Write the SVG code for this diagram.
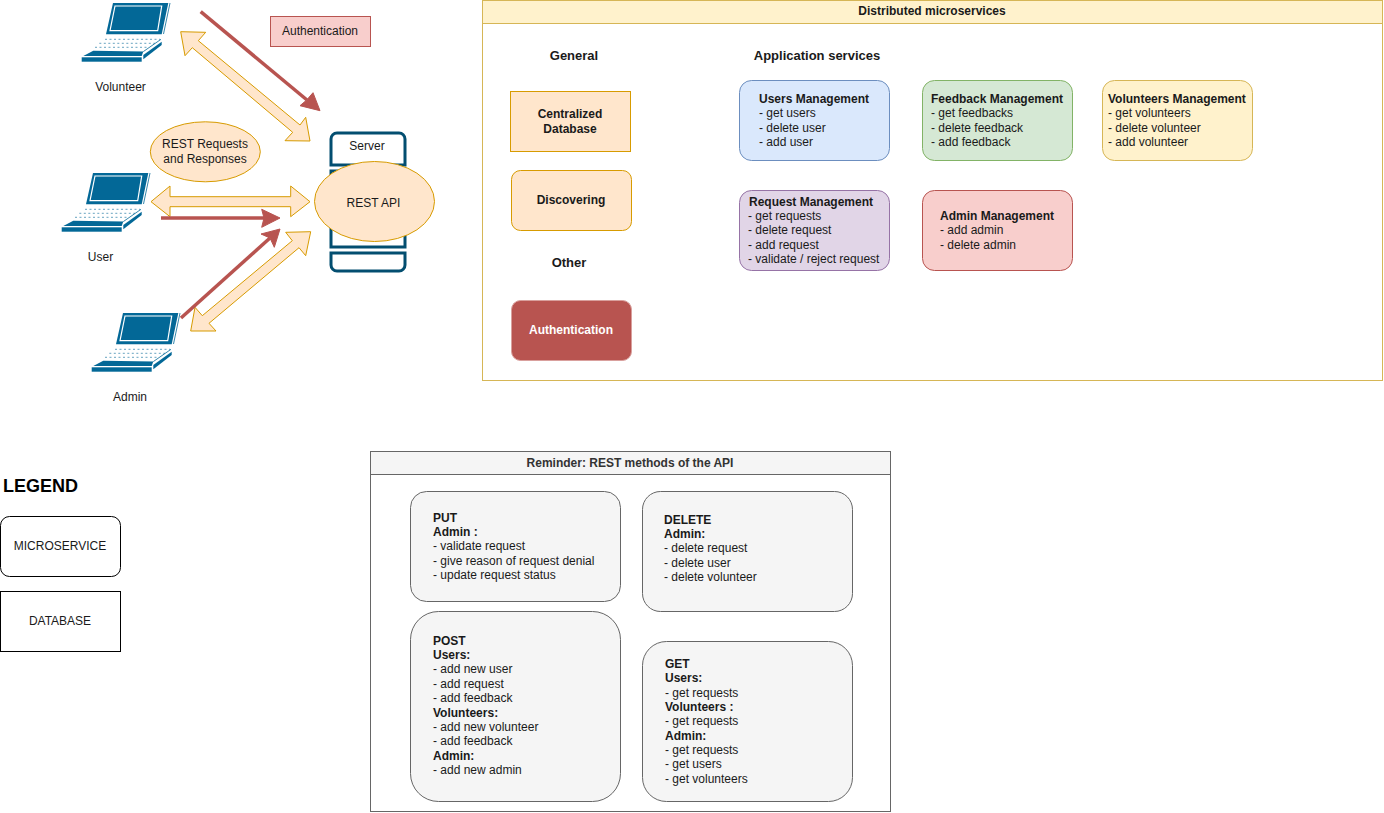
<svg xmlns="http://www.w3.org/2000/svg" width="1384" height="813" viewBox="0 0 1384 813">
<style>
text{font-family:"Liberation Sans",Arial,sans-serif;font-size:12px;fill:#1a1a1a}
.c{text-anchor:middle}
.b{font-weight:700}
.h{font-size:13px}
.o{fill:#ffe6cc;stroke:#d79b00;stroke-width:1}
.ba{fill:#ffe6cc;stroke:#d79b00;stroke-width:1}
.red{fill:none;stroke:#b85450;stroke-width:3.500}
.rh{fill:#b85450;stroke:#b85450}
.srv{fill:#fff;stroke:#034e70;stroke-width:3}
.g{fill:#f5f5f5;stroke:#666;stroke-width:1}
.k{fill:#fff;stroke:#000;stroke-width:1}
.gt{fill:#333}
</style>
<defs>
<g id="laptop">
<polygon points="32,1 87.300,1 80.700,32.300 25,32.300" fill="#036897"/>
<polygon points="34,4 80.700,4 76.700,28.700 29,28.700" fill="#036897" stroke="#fff" stroke-width="1.200"/>
<line x1="89" y1="1" x2="82.500" y2="32" stroke="#036897" stroke-width=".8"/>
<path d="M24 37.300H79M18.300 41.300H74M14 45.300H67.300" stroke="#036897" stroke-width="1" stroke-dasharray="2 2.500" fill="none" opacity=".6"/>
<line x1="80" y1="37.300" x2="62.300" y2="49.600" stroke="#036897" stroke-width=".8"/>
<polygon points="12.300,48.700 62.300,49.500 60.700,54 2.300,54" fill="#036897"/>
<rect x="0.700" y="55.300" width="60" height="4.400" fill="#036897"/>
<polygon points="62.300,53 80.700,39.700 80.700,43 62.300,57.300" fill="#036897"/>
</g>
</defs>

<g id="connectors">
<polygon class="ba" points="180.700,31.700 205.700,32.300 198.300,40.700 300,125 305.700,117.300 310,141 285,140.700 292.700,132.300 192.300,47.700 185,55.700"/>
<polygon class="ba" points="151,201.700 170,186 170,196.700 290.700,196.700 290.700,186 310,201.700 290.700,216.700 290.700,206.700 170,206.700 170,216.700"/>
<polygon class="ba" points="190.700,331 195,307.300 202.300,315.700 292.300,240.700 285.700,232.300 310.700,231.700 305.700,255.700 299,247.700 209,323.300 216,331"/>
<line class="red" x1="200.700" y1="11.700" x2="307" y2="100"/>
<polygon class="rh" points="320,110.700 300,105.700 306.700,100 313,92.700"/>
<line class="red" x1="161" y1="218" x2="265" y2="218"/>
<polygon class="rh" points="280,218 261.700,227.300 264,218 261.700,209.300"/>
<line class="red" x1="181" y1="318" x2="270" y2="238"/>
<polygon class="rh" points="280,229 274.300,247.300 270,238 261,234"/>
</g>

<g id="volunteer"><use href="#laptop" x="81" y="2"/><text class="c" x="120.500" y="91">Volunteer</text></g>
<g id="user"><use href="#laptop" x="61" y="172"/><text class="c" x="100.500" y="261">User</text></g>
<g id="admin"><use href="#laptop" x="91" y="312"/><text class="c" x="130" y="401">Admin</text></g>

<g id="auth-label"><rect x="270.500" y="16.500" width="100" height="30" fill="#f8cecc" stroke="#b85450"/><text class="c" x="320" y="35">Authentication</text></g>
<g id="rest-req"><ellipse class="o" cx="205.300" cy="151.800" rx="55" ry="30"/><text class="c" x="205" y="148">REST Requests</text><text class="c" x="205" y="163">and Responses</text></g>

<g id="server">
<path class="srv" d="M331 165V139a6 6 0 0 1 6-6h62a6 6 0 0 1 6 6v26z"/>
<rect class="srv" x="331" y="171" width="74" height="76"/>
<path class="srv" d="M331 253h74v12a6 6 0 0 1-6 6h-62a6 6 0 0 1-6-6z"/>
<text class="c" x="367" y="150">Server</text>
</g>
<g id="rest-api"><ellipse class="o" cx="374.500" cy="201.500" rx="60" ry="40"/><text class="c" x="373.500" y="207">REST API</text></g>

<g id="microservices">
<rect x="482.500" y="0.500" width="900" height="380" fill="#fff" stroke="#d6b656"/>
<rect x="482.500" y="0.500" width="900" height="23" fill="#fff2cc" stroke="#d6b656"/>
<text class="c b" x="932" y="15">Distributed microservices</text>
<text class="c b h" x="574" y="60">General</text>
<text class="c b h" x="817" y="60">Application services</text>
<text class="c b h" x="569" y="267">Other</text>
</g>
<g id="db"><rect class="o" x="510.500" y="91.500" width="120" height="60"/><text class="c b" x="570" y="118">Centralized</text><text class="c b" x="570" y="133">Database</text></g>
<g id="discovering"><rect class="o" x="511.500" y="170.500" width="120" height="60" rx="9"/><text class="c b" x="571" y="204">Discovering</text></g>
<g id="authentication"><rect x="511.500" y="300.500" width="120" height="60" rx="9" fill="#b85450" stroke="#d9a09d"/><text class="c b" x="571" y="334" style="fill:#fff">Authentication</text></g>

<g id="users-mgmt"><rect x="739.500" y="80.500" width="150" height="80" rx="12" fill="#dae8fc" stroke="#6c8ebf"/>
<text class="b" x="759" y="103">Users Management</text><text x="759" y="117">- get users</text><text x="759" y="132">- delete user</text><text x="759" y="146">- add user</text></g>
<g id="feedback-mgmt"><rect x="922.500" y="80.500" width="150" height="80" rx="12" fill="#d5e8d4" stroke="#82b366"/>
<text class="b" x="931" y="103">Feedback Management</text><text x="931" y="117">- get feedbacks</text><text x="931" y="132">- delete feedback</text><text x="931" y="146">- add feedback</text></g>
<g id="volunteers-mgmt"><rect x="1102.500" y="80.500" width="150" height="80" rx="12" fill="#fff2cc" stroke="#d6b656"/>
<text class="b" x="1108" y="103">Volunteers Management</text><text x="1108" y="117">- get volunteers</text><text x="1108" y="132">- delete volunteer</text><text x="1108" y="146">- add volunteer</text></g>
<g id="request-mgmt"><rect x="739.500" y="190.500" width="150" height="80" rx="12" fill="#e1d5e7" stroke="#9673a6"/>
<text class="b" x="749" y="206">Request Management</text><text x="748" y="220">- get requests</text><text x="748" y="234">- delete request</text><text x="748" y="249">- add request</text><text x="748" y="263">- validate / reject request</text></g>
<g id="admin-mgmt"><rect x="922.500" y="190.500" width="150" height="80" rx="12" fill="#f8cecc" stroke="#b85450"/>
<text class="b" x="940" y="220">Admin Management</text><text x="940" y="234">- add admin</text><text x="940" y="249">- delete admin</text></g>

<g id="legend">
<text x="3" y="492" style="font-size:18px;font-weight:700;fill:#000">LEGEND</text>
</g>
<g id="legend-microservice"><rect class="k" x="0.500" y="516.500" width="120" height="60" rx="9"/><text class="c" x="60" y="550">MICROSERVICE</text></g>
<g id="legend-database"><rect class="k" x="0.500" y="591.500" width="120" height="60"/><text class="c" x="60" y="625">DATABASE</text></g>

<g id="reminder">
<rect x="370.500" y="451.500" width="520" height="360" fill="#fff" stroke="#666"/>
<rect x="370.500" y="451.500" width="520" height="23" fill="#f5f5f5" stroke="#666"/>
<text class="c b gt" x="630" y="467">Reminder: REST methods of the API</text>
</g>
<g id="put"><rect class="g" x="410.500" y="491.500" width="210" height="110" rx="16"/>
<text class="b" x="433" y="522">PUT</text><text class="b" x="433" y="536">Admin :</text><text x="433" y="550">- validate request</text><text x="433" y="565">- give reason of request denial</text><text x="433" y="579">- update request status</text></g>
<g id="delete"><rect class="g" x="642.500" y="491.500" width="210" height="120" rx="18"/>
<text class="b" x="664" y="524">DELETE</text><text class="b" x="664" y="538">Admin:</text><text x="664" y="552">- delete request</text><text x="664" y="567">- delete user</text><text x="664" y="581">- delete volunteer</text></g>
<g id="post"><rect class="g" x="410.500" y="611.500" width="210" height="190" rx="28"/>
<text class="b" x="433" y="645">POST</text><text class="b" x="433" y="659">Users:</text><text x="433" y="673">- add new user</text><text x="433" y="688">- add request</text><text x="433" y="702">- add feedback</text><text class="b" x="433" y="717">Volunteers:</text><text x="433" y="731">- add new volunteer</text><text x="433" y="745">- add feedback</text><text class="b" x="433" y="760">Admin:</text><text x="433" y="774">- add new admin</text></g>
<g id="get"><rect class="g" x="642.500" y="641.500" width="210" height="160" rx="24"/>
<text class="b" x="665" y="668">GET</text><text class="b" x="665" y="682">Users:</text><text x="665" y="697">- get requests</text><text class="b" x="665" y="711">Volunteers :</text><text x="665" y="725">- get requests</text><text class="b" x="665" y="740">Admin:</text><text x="665" y="754">- get requests</text><text x="665" y="768">- get users</text><text x="665" y="783">- get volunteers</text></g>
</svg>
